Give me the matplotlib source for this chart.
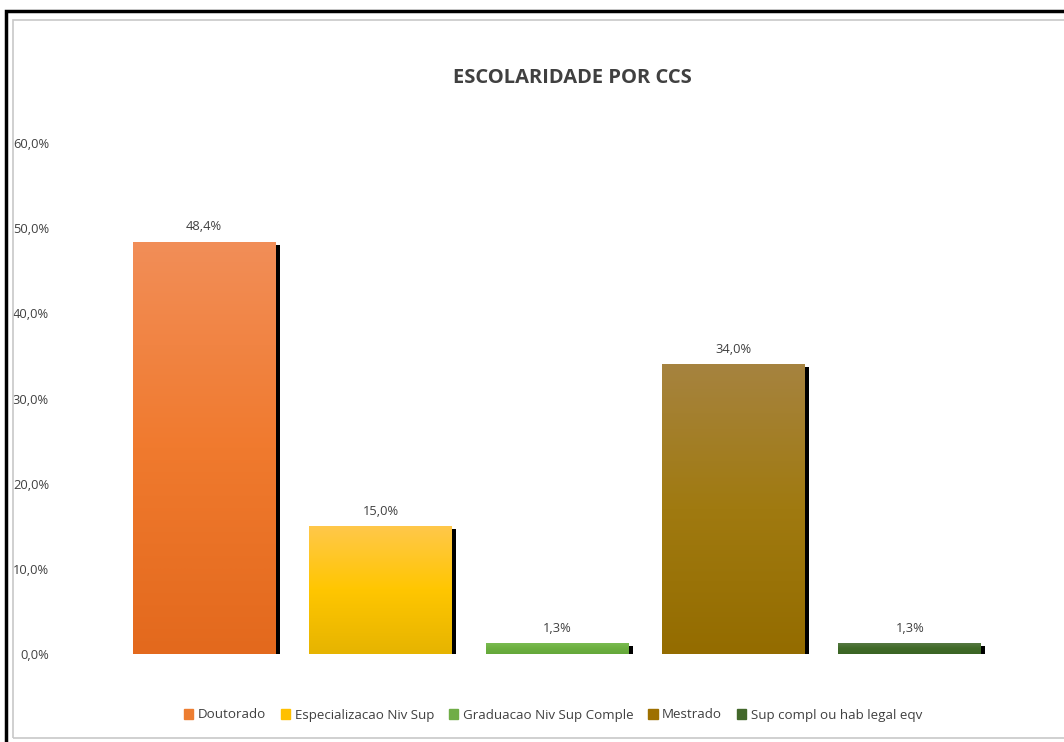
import matplotlib
matplotlib.use("Agg")
import matplotlib.pyplot as plt
import matplotlib.patheffects as pe
from matplotlib.patches import Rectangle
from matplotlib.colors import LinearSegmentedColormap
import numpy as np

plt.rcParams['font.family'] = ['Open Sans', 'DejaVu Sans']

categories = ["Doutorado", "Especializacao Niv Sup", "Graduacao Niv Sup Comple",
              "Mestrado", "Sup compl ou hab legal eqv"]
values = [48.4, 15.0, 1.3, 34.0, 1.3]
labels = ["48,4%", "15,0%", "1,3%", "34,0%", "1,3%"]
yticks = [0, 10, 20, 30, 40, 50, 60]
ytick_labels = ["0,0%", "10,0%", "20,0%", "30,0%", "40,0%", "50,0%", "60,0%"]
title = "ESCOLARIDADE POR CCS"

# gradient colours (top, middle, bottom)
grads = [
    ["#F28E58", "#F07A2E", "#E3691D"],
    ["#FFC84A", "#FFC600", "#E6B400"],
    ["#7DBE55", "#6DB040", "#65A83A"],
    ["#A6833F", "#A07A10", "#946C00"],
    ["#5A7C48", "#406A28", "#3A6424"],
]
legend_colors = ["#ED7D31", "#FFC000", "#70AD47", "#9E7000", "#43682B"]

W, H = 1064, 742
fig = plt.figure(figsize=(W / 100, H / 100), dpi=100)

# frames
fig.add_artist(Rectangle((6 / W, -0.1), 1.2, (H - 11) / H + 0.1, transform=fig.transFigure,
                         fill=False, edgecolor="black", linewidth=2.5))
fig.add_artist(Rectangle((13 / W, 4 / H), 1.2, (H - 24) / H, transform=fig.transFigure,
                         fill=False, edgecolor="#C8C8C8", linewidth=1.2))

ax = fig.add_axes([116 / W, (H - 654) / H, (998 - 116) / W, (654 - 143) / H])
ax.set_xlim(-0.5, len(values) - 0.5)
ax.set_ylim(0, 60)
x = np.arange(len(values))
bars = ax.bar(x, values, width=0.81, color=legend_colors, zorder=2,
              path_effects=[pe.SimplePatchShadow(offset=(3, -2), shadow_rgbFace="black", alpha=1.0),
                            pe.Normal()])
for b, g, lab in zip(bars, grads, labels):
    cmap = LinearSegmentedColormap.from_list("g", g[::-1])
    grad = np.linspace(0, 1, 256).reshape(-1, 1)
    im = ax.imshow(grad, cmap=cmap, origin="lower", aspect="auto",
                   extent=(b.get_x(), b.get_x() + b.get_width(), 0, b.get_height()),
                   zorder=3)
    im.set_clip_path(b)
    ax.annotate(lab, (b.get_x() + b.get_width() / 2, b.get_height()),
                xytext=(0, 6), textcoords="offset points", ha="center", va="bottom",
                fontsize=9.3, color="#404040", zorder=4)

ax.set_xlim(-0.5, len(values) - 0.5)
ax.set_ylim(0, 60)
ax.set_yticks(yticks)
ax.set_yticklabels(ytick_labels, fontsize=9.3, color="#404040")
ax.tick_params(axis="y", length=0, pad=67 * 0.72)
ax.set_xticks([])
for s in ax.spines.values():
    s.set_visible(False)

fig.text(572 / W, 1 - 78 / H, title, ha="center", va="center", fontsize=14.5,
         fontweight="bold", color="#404040")

handles = [Rectangle((0, 0), 1, 1, color=c) for c in legend_colors]
fig.legend(handles, categories, loc="center", bbox_to_anchor=(553 / W, 1 - 715 / H),
           ncol=5, frameon=False, fontsize=9.6, handlelength=0.7, handleheight=0.7,
           handletextpad=0.35, columnspacing=1.1, labelcolor="#404040")

fig.savefig("out.png", dpi=100)
